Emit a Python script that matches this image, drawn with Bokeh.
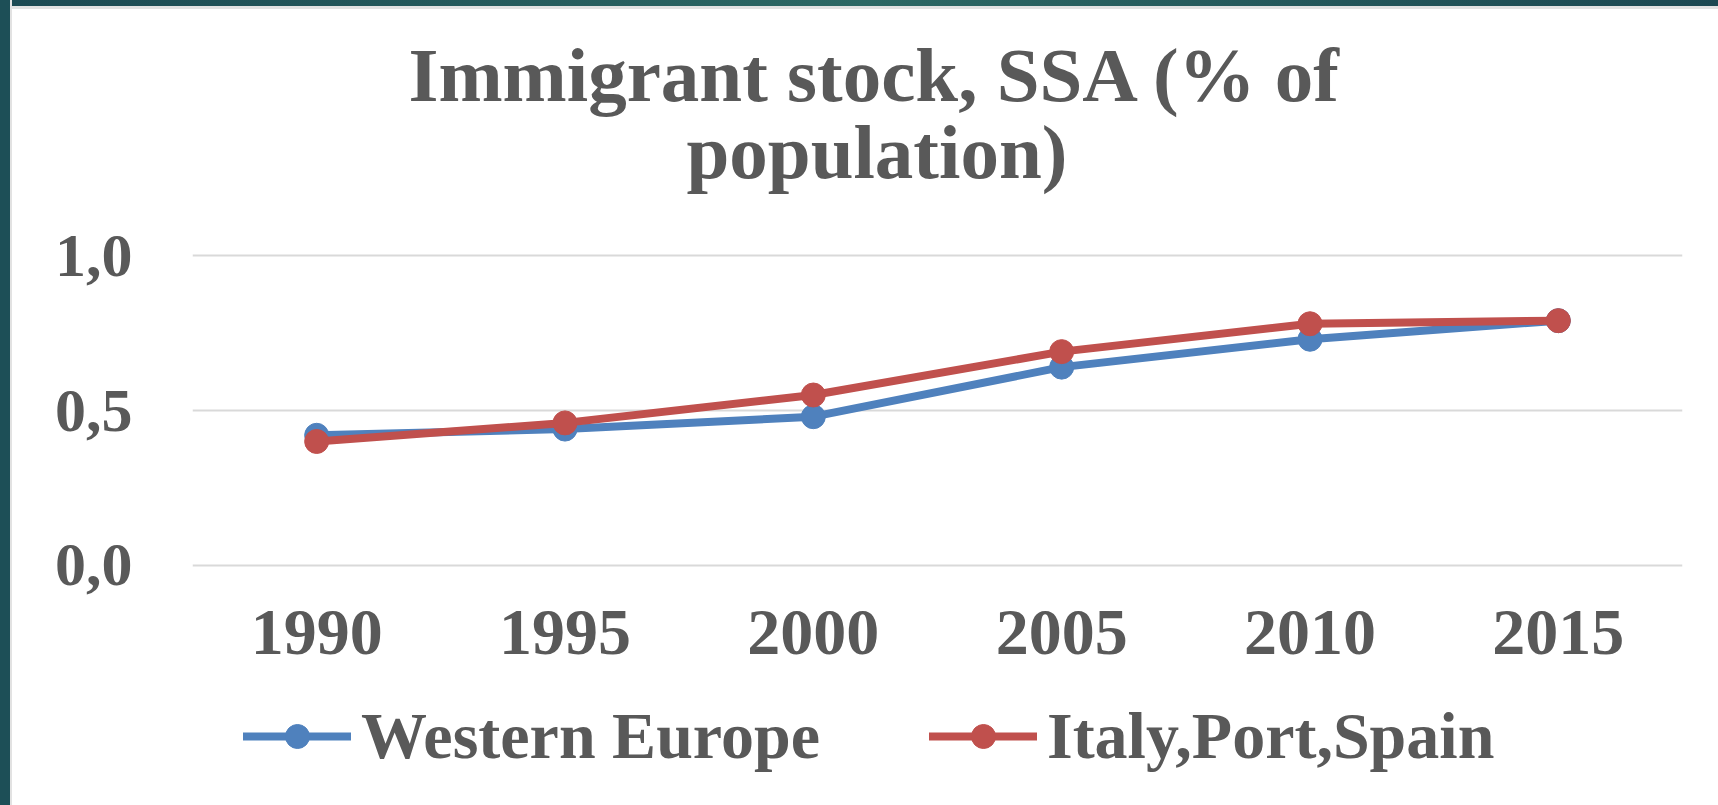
from bokeh.plotting import figure
from bokeh.models import (FactorRange, Range1d, FixedTicker, Legend, LegendItem,
                          Title, ColumnDataSource, Spacer)
from bokeh.layouts import row, column
from bokeh.embed import file_html
from bokeh.resources import INLINE

# ---- data ----
years = ["1990", "1995", "2000", "2005", "2010", "2015"]
western_europe = [0.42, 0.44, 0.48, 0.64, 0.73, 0.79]
italy_port_spain = [0.40, 0.46, 0.55, 0.69, 0.78, 0.79]
series_names = ["Western Europe", "Italy,Port,Spain"]
y_ticks = [0.0, 0.5, 1.0]
y_tick_labels = ["0,0", "0,5", "1,0"]
title_lines = ["Immigrant stock, SSA (% of", "population)"]

# ---- style ----
FONT = "Liberation Serif"
TXT = "#595959"
COLORS = ["#4f81bd", "#c0504d"]
TEAL = "#1d4f57"

src = ColumnDataSource(dict(year=years, we=western_europe, ips=italy_port_spain))

p = figure(width=1706, height=691, x_range=FactorRange(*years),
           y_range=Range1d(y_ticks[0] - 0.01, y_ticks[-1] + 0.01),
           output_backend="svg", toolbar_location=None, title=None,
           min_border_left=180, min_border_right=36,
           min_border_top=243, min_border_bottom=132,
           outline_line_color=None, background_fill_color="white",
           border_fill_color="white")

# titles: spacer nearest the frame, then line 2, then line 1
p.add_layout(Title(text=" ", standoff=64.5, text_font_size="1px"), "above")
p.add_layout(Title(text=title_lines[1], align="left", offset=494, standoff=-21,
                   text_font=FONT, text_font_size="77px", text_font_style="bold",
                   text_color=TXT), "above")
p.add_layout(Title(text=title_lines[0], align="left", offset=216, standoff=0,
                   text_font=FONT, text_font_size="77px", text_font_style="bold",
                   text_color=TXT), "above")

for col, color in zip(["we", "ips"], COLORS):
    p.line("year", col, source=src, line_color=color, line_width=8,
           line_join="round", line_cap="round")
    p.scatter("year", col, source=src, size=24, fill_color=color, line_color=color)

# axes / grid
p.xgrid.grid_line_color = None
p.ygrid.grid_line_color = "#d9d9d9"
p.ygrid.grid_line_width = 2

xa = p.xaxis[0]
xa.axis_line_color = None
xa.major_tick_line_color = None
xa.minor_tick_line_color = None
xa.major_label_standoff = 36
xa.major_label_text_font = FONT
xa.major_label_text_font_size = "66px"
xa.major_label_text_font_style = "bold"
xa.major_label_text_color = TXT

ya = p.yaxis[0]
ya.ticker = FixedTicker(ticks=y_ticks)
ya.major_label_overrides = dict(zip(y_ticks, y_tick_labels))
ya.axis_line_color = None
ya.major_tick_line_color = None
ya.minor_tick_line_color = None
ya.major_label_standoff = 54
ya.major_label_text_font = FONT
ya.major_label_text_font_size = "62px"
ya.major_label_text_font_style = "bold"
ya.major_label_text_color = TXT

# legend strip (separate figure so the legend is not clipped by the frame)
q = figure(width=1706, height=105, x_range=p.x_range, y_range=p.y_range,
           x_axis_type=None, y_axis_type=None,
           output_backend="svg", toolbar_location=None, title=None,
           min_border=0, outline_line_color=None,
           background_fill_color="white", border_fill_color="white")
items = []
for name, col, color in zip(series_names, ["we", "ips"], COLORS):
    ln = q.line("year", col, source=src, line_color=color, line_width=8,
                line_cap="round", visible=False)
    sc = q.scatter("year", col, source=src, size=24, fill_color=color,
                   line_color=color, visible=False)
    items.append(LegendItem(label=name, renderers=[ln, sc]))
legend = Legend(items=items, orientation="horizontal", location=(51, 31),
                glyph_width=108, glyph_height=60, label_standoff=10, spacing=109,
                padding=0, margin=0, border_line_color=None,
                background_fill_alpha=0, click_policy="none",
                label_text_font=FONT, label_text_font_size="66px",
                label_text_font_style="bold", label_text_color=TXT)
q.add_layout(legend, "center")

left_band = Spacer(width=12, height=805, styles={
    "background": f"linear-gradient(90deg, {TEAL} 0px, {TEAL} 10px, #e2e2e2 10px, #e2e2e2 12px)"})
top_band = Spacer(width=1706, height=9, styles={
    "background": "linear-gradient(180deg, rgba(0,0,0,0) 0px, rgba(0,0,0,0) 6px, #e2e2e2 6px, #e2e2e2 9px), "
                  "linear-gradient(90deg, #1c4a53, #2c6864 50%, #1c4852)"})
layout = row(left_band, column(top_band, p, q))

open("out.html", "w").write(file_html(layout, INLINE))
